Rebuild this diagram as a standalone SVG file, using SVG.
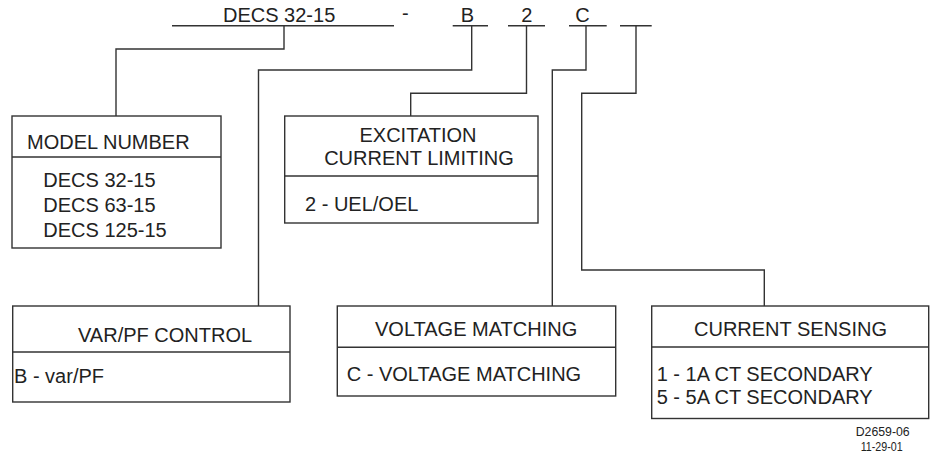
<svg xmlns="http://www.w3.org/2000/svg" width="932" height="455" viewBox="0 0 932 455">
<style>
.box{fill:#fff;stroke:#333;stroke-width:1.4}
.ln{fill:none;stroke:#333;stroke-width:1.4}
text{font-family:"Liberation Sans",Arial,sans-serif;font-size:20px;fill:#222}
.sm{font-size:12px}
</style>
<rect width="932" height="455" fill="#fff"/>
<g id="header">
<text x="223" y="22">DECS 32-15</text>
<text x="402" y="20">-</text>
<text x="467.5" y="22" text-anchor="middle">B</text>
<text x="526.7" y="22" text-anchor="middle">2</text>
<text x="582.5" y="22" text-anchor="middle">C</text>
<path class="ln" d="M172 25.7H394M452.7 25.7H488M508 25.7H545M569 25.7H606.7M620 25.7H651.7"/>
</g>
<g id="connectors">
<path class="ln" d="M284 25.7V49H116V116"/>
<path class="ln" d="M471.7 25.7V70H258.5V306"/>
<path class="ln" d="M526.5 25.7V93.3H410.7V116"/>
<path class="ln" d="M586 25.7V70H552.3V306"/>
<path class="ln" d="M636 25.7V93.3H581.7V270H764.3V306"/>
</g>
<g id="model-number">
<rect class="box" x="12" y="116" width="209" height="132"/>
<path class="ln" d="M12 157H221"/>
<text x="27" y="149.3">MODEL NUMBER</text>
<text x="43.3" y="186.7">DECS 32-15</text>
<text x="43.3" y="211.7">DECS 63-15</text>
<text x="43.3" y="237.3">DECS 125-15</text>
</g>
<g id="excitation">
<rect class="box" x="284.7" y="116" width="253.3" height="107"/>
<path class="ln" d="M284.7 176H538"/>
<text x="418" y="141.7" text-anchor="middle">EXCITATION</text>
<text x="419" y="165" text-anchor="middle">CURRENT LIMITING</text>
<text x="305" y="210.7">2 - UEL/OEL</text>
</g>
<g id="varpf">
<rect class="box" x="12.7" y="306" width="277.3" height="96"/>
<path class="ln" d="M12.7 352H290"/>
<text x="78" y="341.7">VAR/PF CONTROL</text>
<text x="14" y="383">B - var/PF</text>
</g>
<g id="voltage">
<rect class="box" x="337.3" y="306" width="278.4" height="90"/>
<path class="ln" d="M337.3 347.3H615.7"/>
<text x="375" y="335.7">VOLTAGE MATCHING</text>
<text x="346.7" y="380.7">C - VOLTAGE MATCHING</text>
</g>
<g id="current">
<rect class="box" x="651.7" y="306" width="277" height="112.5"/>
<path class="ln" d="M651.7 347H928.7"/>
<text x="694" y="335.7">CURRENT SENSING</text>
<text x="656.7" y="380.7">1 - 1A CT SECONDARY</text>
<text x="656.7" y="404">5 - 5A CT SECONDARY</text>
</g>
<g id="drawing-id">
<text class="sm" x="855.7" y="436" textLength="54" lengthAdjust="spacingAndGlyphs">D2659-06</text>
<text class="sm" x="860.7" y="450.5" textLength="42" lengthAdjust="spacingAndGlyphs">11-29-01</text>
</g>
</svg>
